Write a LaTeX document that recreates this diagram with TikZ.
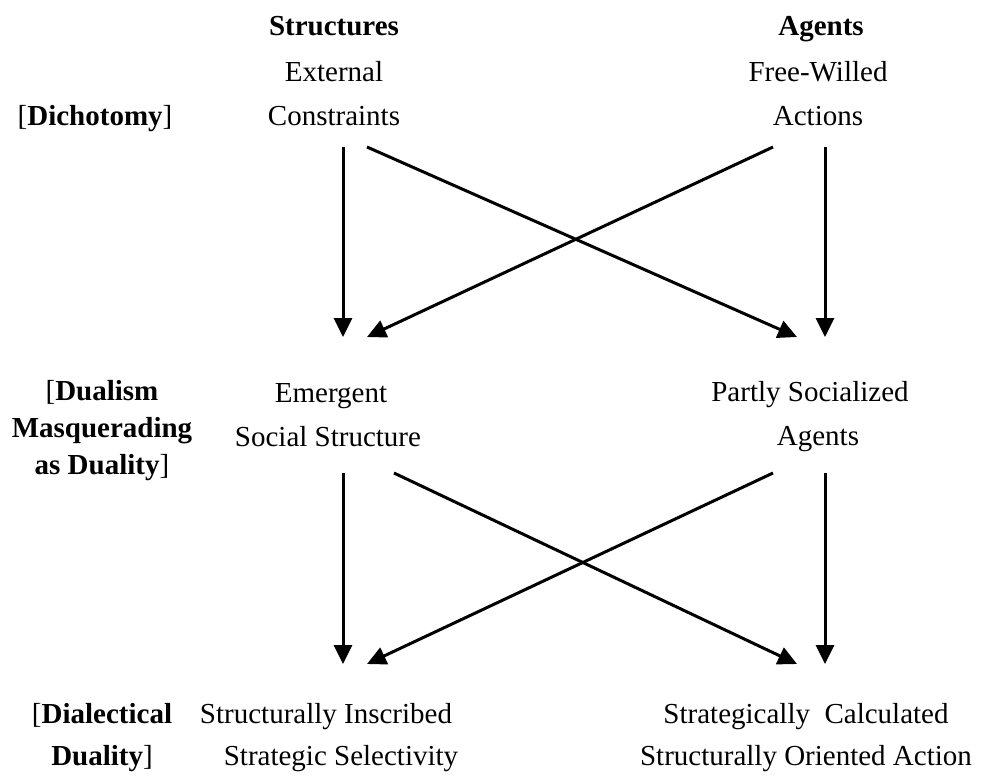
\documentclass[tikz,border=0pt]{standalone}
\usepackage{fontspec}
\setmainfont{Liberation Serif}
\usetikzlibrary{arrows.meta}
\tikzset{
  lbl/.style={align=center, inner sep=0pt, font=\fontsize{29}{44}\selectfont},
  side/.style={lbl, font=\fontsize{29}{37}\selectfont},
  arr/.style={-{Triangle[length=19pt,width=18pt]}, line width=3pt}
}
\begin{document}
\begin{tikzpicture}[x=1pt,y=-1pt]
\useasboundingbox (0,0) rectangle (987,778);
% column heads
\node[lbl] (struc) at (334,26) {\textbf{Structures}};
\node[lbl] (agent) at (821,29) {\textbf{Agents}};
% rows
\node[lbl] (ext) at (334,94) {External\\Constraints};
\node[lbl] (act) at (818,94) {Free-Willed\\Actions};
\node[lbl] (emg) at (328,415) {\hspace*{6pt}Emergent\\Social Structure};
\node[lbl] (psa) at (810,417) {Partly Socialized\\\hspace*{16pt}Agents};
\node[lbl, font=\fontsize{29}{42}\selectfont] (sis) at (326,738) {Structurally Inscribed\\\hspace*{30pt}Strategic Selectivity};
\node[lbl, font=\fontsize{29}{42}\selectfont] (soa) at (806,738) {Strategically\ \ Calculated\\Structurally Oriented Action};
% row labels
\node[side] (dich) at (95,119) {[\textbf{Dichotomy}]};
\node[side] (dual) at (102,431) {[\textbf{Dualism}\\\textbf{Masquerading}\\\textbf{as Duality}]};
\node[side, font=\fontsize{29}{42}\selectfont] (dial) at (102,738) {[\textbf{Dialectical}\\\textbf{Duality}]};
% first tier
\draw[arr] ([shift={(9,53)}]ext.center) -- ([shift={(15,-78)}]emg.center);
\draw[arr] ([shift={(33,53)}]ext.center) -- ([shift={(-13,-80)}]psa.center);
\draw[arr] ([shift={(-45,53)}]act.center) -- ([shift={(39,-78)}]emg.center);
\draw[arr] ([shift={(7,53)}]act.center) -- ([shift={(15,-80)}]psa.center);
% second tier
\draw[arr] ([shift={(15,58)}]emg.center) -- ([shift={(17,-74)}]sis.center);
\draw[arr] ([shift={(66,58)}]emg.center) -- ([shift={(-9,-74)}]soa.center);
\draw[arr] ([shift={(-37,56)}]psa.center) -- ([shift={(41,-74)}]sis.center);
\draw[arr] ([shift={(15,56)}]psa.center) -- ([shift={(19,-74)}]soa.center);
\end{tikzpicture}
\end{document}
